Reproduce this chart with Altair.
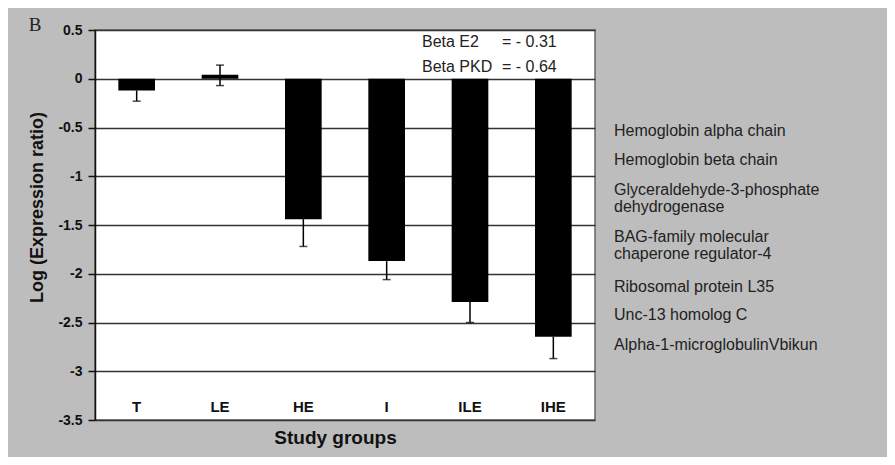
import altair as alt
import pandas as pd

# ---- data ----
groups = ["T", "LE", "HE", "I", "ILE", "IHE"]
values = [-0.12, 0.04, -1.44, -1.87, -2.29, -2.645]
err_low = [-0.23, -0.07, -1.72, -2.06, -2.50, -2.87]
err_high = [-0.12, 0.14, -1.44, -1.87, -2.29, -2.645]

y_ticks = [0.5, 0, -0.5, -1, -1.5, -2, -2.5, -3, -3.5]

panel_label = ["B"]

beta_names = ["Beta E2", "Beta PKD"]
beta_values = ["= - 0.31", "= - 0.64"]

protein_lines = [
    "Hemoglobin alpha chain",
    "Hemoglobin beta chain",
    "Glyceraldehyde-3-phosphate",
    "dehydrogenase",
    "BAG-family molecular",
    "chaperone regulator-4",
    "Ribosomal protein L35",
    "Unc-13 homolog C",
    "Alpha-1-microglobulinVbikun",
]
# layout: pixel offsets (from plot top) of the annotation lines
protein_line_y = [101, 130, 160, 177, 207, 224, 257, 285, 315]
beta_line_y = [12, 37]

FONT = "Liberation Sans"
W, H = 500, 390

df = pd.DataFrame({"group": groups, "value": values, "lo": err_low, "hi": err_high})

caps = []
for g, v, lo, hi in zip(groups, values, err_low, err_high):
    caps.append({"group": g, "cap": lo})
    if hi != v:
        caps.append({"group": g, "cap": hi})
caps_df = pd.DataFrame(caps)

xscale = alt.Scale(domain=groups, paddingInner=0.56, paddingOuter=0.28)
x_enc = alt.X(
    "group:N",
    sort=groups,
    scale=xscale,
    axis=alt.Axis(
        labels=False, ticks=False, domain=False, title="Study groups",
        titleFont=FONT, titleFontSize=19, titleFontWeight="bold", titleColor="#111",
        titleX=240, titleY=17, titleBaseline="middle", titleAlign="center",
    ),
)
yscale = alt.Scale(domain=[-3.5, 0.5], nice=False, zero=True)
y_axis = alt.Axis(
    values=y_ticks,
    labelExpr="'' + datum.value",
    labelFont=FONT, labelFontSize=14, labelFontWeight="bold", labelColor="#111",
    labelPadding=6,
    tickSize=7, tickColor="#111", tickWidth=1.5,
    domainColor="#111", domainWidth=1.5,
    grid=True, gridColor="#333", gridWidth=1.5,
    title="Log (Expression ratio)",
    titleFont=FONT, titleFontSize=18, titleFontWeight="bold", titleColor="#111",
    titleX=-58, titleY=177, titleAngle=270, titleBaseline="middle", titleAlign="center",
)

bars = alt.Chart(df).mark_bar(color="black").encode(
    x=x_enc,
    y=alt.Y("value:Q", scale=yscale, axis=y_axis),
)

rules = alt.Chart(df).mark_rule(color="black", strokeWidth=1.5).encode(
    x=alt.X("group:N", sort=groups, scale=xscale),
    y=alt.Y("lo:Q"),
    y2="hi:Q",
)

ticks = alt.Chart(caps_df).mark_tick(color="black", size=8, thickness=1.5).encode(
    x=alt.X("group:N", sort=groups, scale=xscale),
    y=alt.Y("cap:Q"),
)

cat_text = alt.Chart(df).mark_text(
    font=FONT, fontSize=15, fontWeight="bold", color="#111", baseline="middle"
).encode(
    x=alt.X("group:N", sort=groups, scale=xscale),
    y=alt.value(377),
    text="group:N",
)

panel_df = pd.DataFrame({"label": panel_label})
panel_text = alt.Chart(panel_df).mark_text(
    font="Liberation Serif", fontSize=19, color="#222", align="center", baseline="middle"
).encode(
    x=alt.value(-60),
    y=alt.value(-5),
    text="label:N",
)

beta_df = pd.DataFrame({"name": beta_names, "val": beta_values, "py": beta_line_y})
beta_name_text = alt.Chart(beta_df).mark_text(
    font=FONT, fontSize=16, color="#222", align="left", baseline="middle"
).encode(
    x=alt.value(327),
    y=alt.Y("py:Q", scale=None),
    text="name:N",
)
beta_val_text = alt.Chart(beta_df).mark_text(
    font=FONT, fontSize=16, color="#222", align="left", baseline="middle"
).encode(
    x=alt.value(407),
    y=alt.Y("py:Q", scale=None),
    text="val:N",
)

prot_df = pd.DataFrame({"label": protein_lines, "py": protein_line_y})
prot_text = alt.Chart(prot_df).mark_text(
    font=FONT, fontSize=16, color="#222", align="left", baseline="middle"
).encode(
    x=alt.value(519),
    y=alt.Y("py:Q", scale=None),
    text="label:N",
)

chart = alt.layer(
    bars, rules, ticks, cat_text, panel_text, beta_name_text, beta_val_text, prot_text
).properties(
    width=W,
    height=H,
    autosize=alt.AutoSizeParams(type="none"),
    padding={"left": 87, "top": 22, "right": 292, "bottom": 37},
    background="#bdbdbd",
).configure_view(
    fill="white", stroke="#666", strokeWidth=1.5
)

chart.save("out.html", embed_options={"renderer": "svg", "actions": False})
